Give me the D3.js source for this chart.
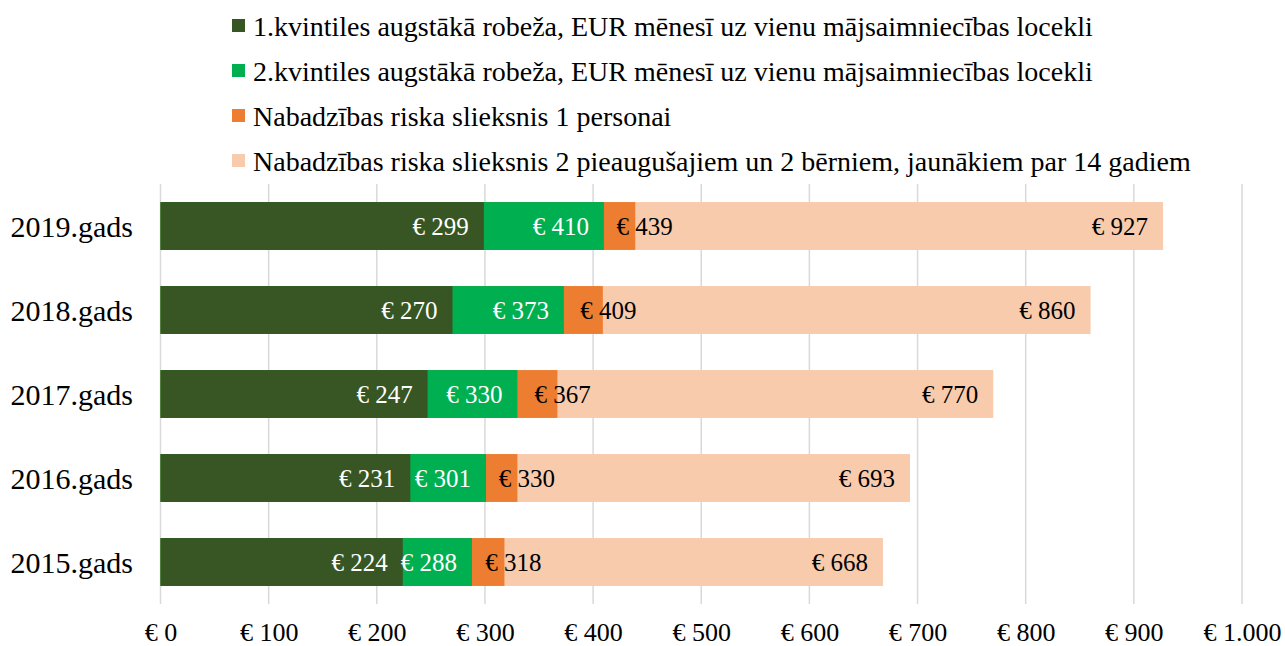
<!DOCTYPE html>
<html>
<head>
<meta charset="utf-8">
<script src="https://cdn.jsdelivr.net/npm/d3@7"></script>
<style>
  body { margin: 0; background: #fff; }
  text { font-family: "Liberation Serif", "Times New Roman", serif; fill: #000; }
</style>
</head>
<body>
<div id="canvas"></div>
<script>
// chart data
var years = ["2019.gads", "2018.gads", "2017.gads", "2016.gads", "2015.gads"];
var q1 = [299, 270, 247, 231, 224];
var q2 = [410, 373, 330, 301, 288];
var pov1 = [439, 409, 367, 330, 318];
var pov4 = [927, 860, 770, 693, 668];
var seriesNames = [
  "1.kvintiles augstākā robeža, EUR mēnesī uz vienu mājsaimniecības locekli",
  "2.kvintiles augstākā robeža, EUR mēnesī uz vienu mājsaimniecības locekli",
  "Nabadzības riska slieksnis 1 personai",
  "Nabadzības riska slieksnis 2 pieaugušajiem un 2 bērniem, jaunākiem par 14 gadiem"
];
var colors = ["#375623", "#00B050", "#ED7D31", "#F8CBAD"];
var xTicks = [0, 100, 200, 300, 400, 500, 600, 700, 800, 900, 1000];

var width = 1285, height = 646;
var svg = d3.select("#canvas").append("svg")
  .attr("width", width)
  .attr("height", height);

var x = d3.scaleLinear().domain([0, 1000]).range([160.5, 1242]);
var y = d3.scaleBand().domain(years).range([184, 604]).paddingInner(0.43).paddingOuter(0.215);

//format money like "€ 1.000"
function euro(v){
  return "€ " + d3.format(",")(v).replace(/,/g, ".");
}

// gridlines
svg.append("g").selectAll("line")
  .data(xTicks)
  .enter().append("line")
  .attr("x1", function(d){ return x(d); })
  .attr("x2", function(d){ return x(d); })
  .attr("y1", 184)
  .attr("y2", 604)
  .attr("stroke", "#D9D9D9")
  .attr("stroke-width", 1.5);

// x axis labels
var xAxis = svg.append("g")
  .attr("transform", "translate(0,620)")
  .call(d3.axisBottom(x).tickValues(xTicks).tickFormat(euro).tickSize(0));
xAxis.select(".domain").remove();
xAxis.selectAll("text")
  .style("font-family", '"Liberation Serif", "Times New Roman", serif')
  .style("font-size", "26px")
  .attr("fill", "#000");

// category labels
svg.append("g").selectAll("text")
  .data(years)
  .enter().append("text")
  .attr("x", 133)
  .attr("y", function(d){ return y(d) + y.bandwidth() / 2; })
  .attr("dy", "0.35em")
  .attr("text-anchor", "end")
  .style("font-size", "30px")
  .text(function(d){ return d; });

// bars drawn from the longest series back to front
var stack = [pov4, pov1, q2, q1];
var stackColors = [colors[3], colors[2], colors[1], colors[0]];
stack.forEach(function(vals, si){
  svg.append("g").selectAll("rect")
    .data(vals)
    .enter().append("rect")
    .attr("x", x(0))
    .attr("y", function(d, i){ return y(years[i]); })
    .attr("width", function(d){ return x(d) - x(0); })
    .attr("height", y.bandwidth())
    .attr("fill", stackColors[si]);
});

// value labels
function endLabels(vals, color){
  svg.append("g").selectAll("text")
    .data(vals)
    .enter().append("text")
    .attr("x", function(d){ return x(d) - 15; })
    .attr("y", function(d, i){ return y(years[i]) + y.bandwidth() / 2; })
    .attr("dy", "0.35em")
    .attr("text-anchor", "end")
    .style("font-size", "25px")
    .style("fill", color)
    .text(euro);
}
endLabels(q1, "#fff");
endLabels(q2, "#fff");
endLabels(pov4, "#000");

// poverty line 1 labels start at the middle of the orange piece
svg.append("g").selectAll("text")
  .data(pov1)
  .enter().append("text")
  .attr("x", function(d, i){ return (x(q2[i]) + x(d)) / 2 - 3; })
  .attr("y", function(d, i){ return y(years[i]) + y.bandwidth() / 2; })
  .attr("dy", "0.35em")
  .style("font-size", "25px")
  .text(euro);

// legend
var legend = svg.append("g").selectAll("g")
  .data(seriesNames)
  .enter().append("g")
  .attr("transform", function(d, i){ return "translate(232," + (26 + i * 45) + ")"; });
legend.append("rect")
  .attr("x", 0)
  .attr("y", -7)
  .attr("width", 13)
  .attr("height", 13)
  .attr("fill", function(d, i){ return colors[i]; });
legend.append("text")
  .attr("x", 21)
  .attr("dy", "0.35em")
  .style("font-size", "28px")
  .text(function(d){ return d; });
</script>
</body>
</html>
